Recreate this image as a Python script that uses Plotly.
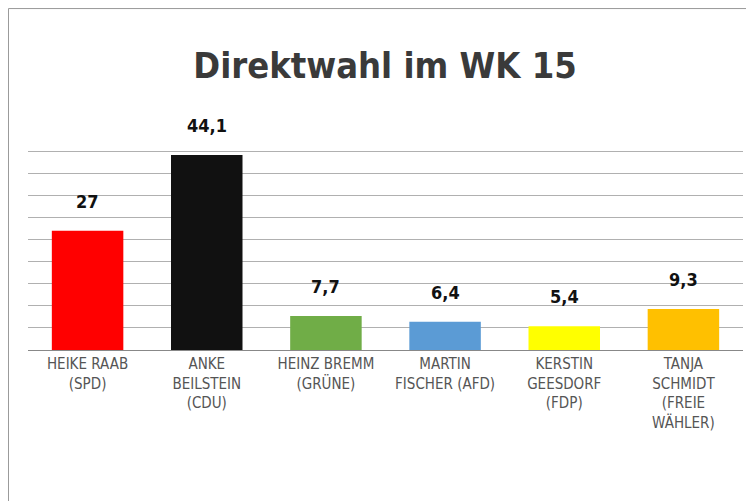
import plotly.graph_objects as go

categories = ["HEIKE RAAB<br>(SPD)", "ANKE<br>BEILSTEIN<br>(CDU)", "HEINZ BREMM<br>(GRÜNE)",
              "MARTIN<br>FISCHER (AFD)", "KERSTIN<br>GEESDORF<br>(FDP)", "TANJA<br>SCHMIDT<br>(FREIE<br>WÄHLER)"]
values = [27, 44.1, 7.7, 6.4, 5.4, 9.3]
labels = ["27", "44,1", "7,7", "6,4", "5,4", "9,3"]
colors = ["#FF0000", "#111111", "#70AD47", "#5B9BD5", "#FFFF00", "#FFC000"]

FONT = "DejaVu Sans Condensed, Open Sans"
fig = go.Figure(go.Bar(
    x=categories, y=values,
    marker=dict(color=colors, line=dict(width=0)),
))
for c, v, t in zip(categories, values, labels):
    fig.add_annotation(x=c, y=v, text="<b>" + t + "</b>", showarrow=False, yanchor="bottom",
                       yshift=17, font=dict(family=FONT, size=18, color="#111"))
fig.update_layout(
    width=754, height=501, paper_bgcolor="white", plot_bgcolor="white",
    margin=dict(l=20, r=19, t=121, b=159, autoexpand=False),
    bargap=0.4, showlegend=False,
    title=dict(text="<b>Direktwahl im WK 15</b>", x=0.5, xanchor="center", y=0.885, yanchor="middle",
               font=dict(family=FONT, size=36, color="#3a3a3a")),
    xaxis=dict(tickfont=dict(family=FONT, size=15, color="#555"), automargin=False,
               showline=True, linecolor="#888", linewidth=1, ticks="", ticklen=12, tickcolor="white"),
    yaxis=dict(range=[0, 50], dtick=5, showticklabels=False, gridcolor="#b0b0b0", gridwidth=1,
               zeroline=False, automargin=False),
    shapes=[dict(type="rect", xref="paper", yref="paper", x0=-0.0273, x1=1.0259, y0=-0.717, y1=1.545,
                 line=dict(color="#999", width=1))],
)
fig.write_html("out.html")
